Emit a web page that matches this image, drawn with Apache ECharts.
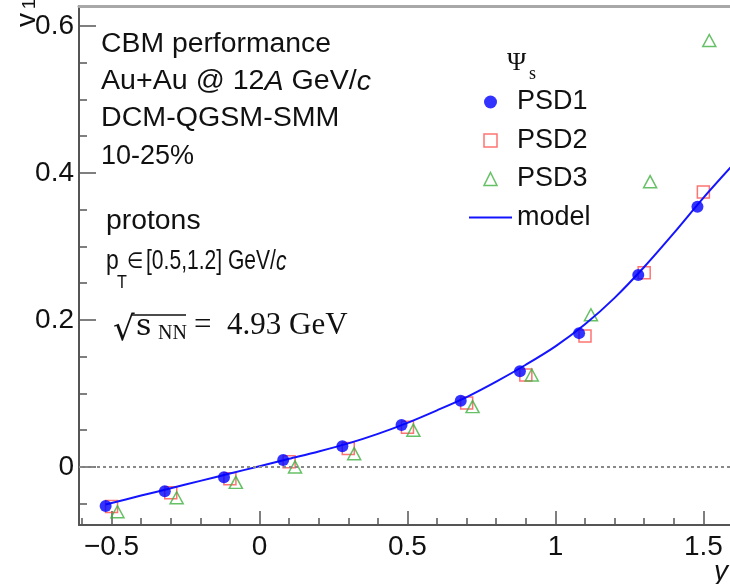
<!DOCTYPE html>
<html>
<head>
<meta charset="utf-8">
<script src="https://cdn.jsdelivr.net/npm/echarts@6/dist/echarts.min.js"></script>
<style>
  html, body { margin: 0; padding: 0; background: #fff; }
  #chart { width: 730px; height: 584px; }
</style>
</head>
<body>
<div id="chart"></div>
<script>
// Measured points (rapidity y, v1)
var psd1X = [-0.52, -0.32, -0.12, 0.08, 0.28, 0.48, 0.68, 0.88, 1.08, 1.28, 1.48];
var psd1Y = [-0.053, -0.033, -0.014, 0.0095, 0.028, 0.057, 0.090, 0.130, 0.182, 0.261, 0.354];
var psd2X = [-0.50, -0.30, -0.10, 0.10, 0.30, 0.50, 0.70, 0.90, 1.10, 1.30, 1.50];
var psd2Y = [-0.054, -0.035, -0.016, 0.007, 0.025, 0.054, 0.087, 0.125, 0.178, 0.264, 0.374];
var psd3X = [-0.48, -0.28, -0.08, 0.12, 0.32, 0.52, 0.72, 0.92, 1.12, 1.32, 1.52];
var psd3Y = [-0.061, -0.042, -0.021, 0.0, 0.018, 0.050, 0.082, 0.125, 0.207, 0.388, 0.580];

// Model curve
var modelX = [-0.52, -0.4, -0.3, -0.2, -0.1, 0, 0.1, 0.2, 0.3, 0.4, 0.5, 0.6, 0.7, 0.8, 0.9, 1.0, 1.1, 1.2, 1.3, 1.4, 1.5, 1.6];
var modelY = [-0.051, -0.039, -0.029, -0.019, -0.009, 0.001, 0.011, 0.021, 0.032, 0.045, 0.060, 0.077, 0.095, 0.116, 0.139, 0.164, 0.194, 0.230, 0.272, 0.318, 0.366, 0.411];

// Tick positions
var xMajorTicks = [-0.5, 0, 0.5, 1, 1.5];
var xMinorTicks = [-0.6, -0.4, -0.3, -0.2, -0.1, 0.1, 0.2, 0.3, 0.4, 0.6, 0.7, 0.8, 0.9, 1.1, 1.2, 1.3, 1.4];
var yMajorTicks = [0, 0.2, 0.4, 0.6];
var yMinorTicks = [-0.05, 0.05, 0.1, 0.15, 0.25, 0.3, 0.35, 0.45, 0.5, 0.55];

var SANS = 'Liberation Sans';
var SERIF = 'Liberation Serif';
var AXIS_COLOR = '#555';
var RED = '#ff5050';
var GREEN = '#40b040';
var BLUE = '#0000ff';

function pairs(xs, ys) {
  return xs.map(function(x, i) { return [x, ys[i]]; });
}

function fmtTick(v) {
  return v < 0 ? '\u2212' + Math.abs(v) : String(v);
}

function txt(x, y, text, size, extra, el) {
  var style = {
    text: text,
    fontSize: size,
    fontFamily: SANS,
    fill: '#111',
    verticalAlign: 'middle'
  };
  if (extra) {
    for (var k in extra) style[k] = extra[k];
  }
  var o = {type: 'text', x: x, y: y, style: style, silent: true};
  if (el) {
    for (var j in el) o[j] = el[j];
  }
  return o;
}

var italicRich = {i: {fontStyle: 'italic', fontSize: 27, fontFamily: SANS, fill: '#111'}};

var chart = echarts.init(document.getElementById('chart'));

var xBase = {type: 'value', min: -0.61, max: 1.59, splitLine: {show: false}};
var yBase = {type: 'value', min: -0.079, max: 0.627, splitLine: {show: false}};

chart.setOption({
  animation: false,
  backgroundColor: '#fff',
  grid: {left: 79, top: 6, right: 0, bottom: 59},
  xAxis: [
    Object.assign({}, xBase, {
      axisLine: {onZero: false, lineStyle: {color: AXIS_COLOR, width: 2}},
      axisTick: {inside: true, length: 14, customValues: xMajorTicks, lineStyle: {color: AXIS_COLOR, width: 1.5}},
      axisLabel: {
        customValues: xMajorTicks, formatter: fmtTick, margin: 8,
        fontSize: 28, fontFamily: SANS, color: '#111'
      }
    }),
    Object.assign({}, xBase, {
      position: 'bottom',
      axisLine: {show: false, onZero: false},
      axisTick: {inside: true, length: 7, customValues: xMinorTicks, lineStyle: {color: AXIS_COLOR, width: 1.5}},
      axisLabel: {show: false}
    }),
    // frame top edge
    Object.assign({}, xBase, {
      position: 'top',
      axisLine: {onZero: false, lineStyle: {color: '#a8a8a8', width: 3}},
      axisTick: {show: false},
      axisLabel: {show: false}
    })
  ],
  yAxis: [
    Object.assign({}, yBase, {
      axisLine: {show: true, onZero: false, lineStyle: {color: AXIS_COLOR, width: 2}},
      axisTick: {show: true, inside: true, length: 17, customValues: yMajorTicks, lineStyle: {color: AXIS_COLOR, width: 1.5}},
      axisLabel: {
        customValues: yMajorTicks, formatter: fmtTick, margin: 5,
        fontSize: 28, fontFamily: SANS, color: '#111'
      }
    }),
    Object.assign({}, yBase, {
      position: 'left',
      axisLine: {show: false, onZero: false},
      axisTick: {show: true, inside: true, length: 8, customValues: yMinorTicks, lineStyle: {color: AXIS_COLOR, width: 1.5}},
      axisLabel: {show: false}
    })
  ],
  legend: {
    orient: 'vertical',
    left: 464,
    top: 82,
    itemWidth: 43,
    itemHeight: 13,
    itemGap: 8.5,
    selectedMode: false,
    symbolKeepAspect: true,
    textStyle: {fontSize: 27, fontFamily: SANS, color: '#111', lineHeight: 30},
    data: [
      {name: 'PSD1', icon: 'circle'},
      {name: 'PSD2', icon: 'path://M0,0L10,0L10,10L0,10Z',
       itemStyle: {color: 'transparent', borderColor: RED, borderWidth: 1.5}},
      {name: 'PSD3', icon: 'path://M5,0L10,10L0,10Z',
       itemStyle: {color: 'transparent', borderColor: GREEN, borderWidth: 1.5}},
      {name: 'model', icon: 'path://M0,0L43,0L43,2L0,2Z',
       itemStyle: {color: '#1414ff', borderWidth: 0}}
    ]
  },
  series: [
    {
      name: 'PSD2',
      type: 'scatter',
      symbol: 'rect',
      symbolSize: 12,
      z: 2,
      itemStyle: {color: 'transparent', borderColor: RED, borderWidth: 1.5},
      data: pairs(psd2X, psd2Y)
    },
    {
      name: 'PSD3',
      type: 'scatter',
      symbol: 'triangle',
      symbolSize: [13, 12],
      z: 2,
      itemStyle: {color: 'transparent', borderColor: GREEN, borderWidth: 1.5},
      data: pairs(psd3X, psd3Y)
    },
    {
      name: 'model',
      type: 'line',
      smooth: 0.3,
      symbol: 'none',
      z: 3,
      lineStyle: {color: '#1414ff', width: 2},
      itemStyle: {color: '#1414ff'},
      data: pairs(modelX, modelY),
      markLine: {
        silent: true,
        symbol: ['none', 'none'],
        label: {show: false},
        lineStyle: {type: [3, 3], color: '#888', width: 2},
        data: [{yAxis: 0}]
      }
    },
    {
      name: 'PSD1',
      type: 'scatter',
      symbol: 'circle',
      symbolSize: 12,
      z: 4,
      itemStyle: {color: BLUE},
      data: pairs(psd1X, psd1Y)
    }
  ],
  graphic: [
    // axis titles
    txt(27, 20, 'v', 28, {textAlign: 'center'}, {rotation: Math.PI / 2}),
    txt(30, 4, '1', 19, {textAlign: 'center'}, {rotation: Math.PI / 2}),
    txt(714, 572, 'y', 28, {fontStyle: 'italic'}),
    // annotation block
    txt(101, 45, 'CBM performance', 27, null, {scaleX: 1.05}),
    txt(101, 82, 'Au+Au @ 12{i|A} GeV/{i|c}', 27, {rich: italicRich}, {scaleX: 1.06}),
    txt(101, 119, 'DCM-QGSM-SMM', 27, null, {scaleX: 1.06}),
    txt(101, 157, '10-25%', 27),
    txt(106, 222, 'protons', 27, null, {scaleX: 1.05}),
    txt(106, 262, 'p', 27, null, {scaleX: 0.85}),
    txt(117, 283, 'T', 19, null, {scaleX: 0.85}),
    txt(127, 262, '\u2208', 22, {fontFamily: 'DejaVu Sans'}, {scaleX: 0.85}),
    txt(146, 262, '[0.5,1.2] GeV/{i|c}', 27, {rich: italicRich}, {scaleX: 0.78}),
    // sqrt(s_NN) line
    txt(113, 331, '\u221A', 34, {fontFamily: 'DejaVu Serif'}),
    txt(136, 327, 's', 30, {fontFamily: 'DejaVu Serif'}),
    txt(158, 334, 'NN', 20, {fontFamily: SERIF}),
    {type: 'line', shape: {x1: 131, y1: 315, x2: 186, y2: 315}, style: {stroke: '#111', lineWidth: 1.5}, silent: true},
    txt(194, 326, '=', 31, {fontFamily: SERIF}),
    txt(227, 326, '4.93 GeV', 31, {fontFamily: SERIF}),
    // legend header
    txt(507, 63, '\u03A8', 26, {fontFamily: SERIF}),
    txt(529, 74, 's', 18, {fontFamily: SERIF})
  ]
});
</script>
</body>
</html>
